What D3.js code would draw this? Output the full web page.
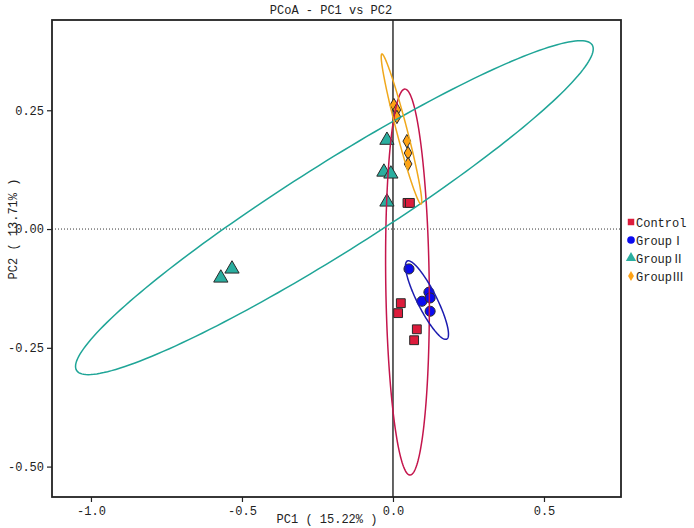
<!DOCTYPE html>
<html>
<head>
<meta charset="utf-8">
<script src="https://cdn.jsdelivr.net/npm/d3@7"></script>
<style>
  html, body { margin: 0; padding: 0; background: #fff; }
  text { font-family: "Liberation Mono", "Noto Sans CJK SC", monospace; }
</style>
</head>
<body>
<svg id="chart" width="694" height="528"></svg>
<script>
// ---- data ----
const groups = ["Control", "GroupⅠ", "GroupⅡ", "GroupⅢ"];
const controlX = [0.048, 0.056, 0.026, 0.017, 0.079, 0.070];
const controlY = [0.055, 0.055, -0.156, -0.177, -0.211, -0.234];
const group1X = [0.053, 0.119, 0.096, 0.123, 0.123];
const group1Y = [-0.084, -0.133, -0.152, -0.145, -0.173];
const group2X = [-0.020, -0.030, -0.007, -0.020, -0.570, -0.533];
const group2Y = [0.187, 0.120, 0.116, 0.057, -0.103, -0.084];
const group3X = [0.003, 0.013, 0.013, 0.046, 0.050, 0.050];
const group3Y = [0.261, 0.251, 0.236, 0.185, 0.160, 0.137];
// confidence ellipses (centre + scaled covariance, data units)
const ellipseCx  = [0.048, 0.1126, -0.194, 0.0281];
const ellipseCy  = [-0.1116, -0.1495, 0.045, 0.2105];
const ellipseSxx = [0.00525, 0.00507, 0.7346, 0.0045];
const ellipseSxy = [-0.0034, -0.0051, 0.2864, -0.0102];
const ellipseSyy = [0.165, 0.00684, 0.1235, 0.02496];
const xTicks = [-1.0, -0.5, 0.0, 0.5];
const xTickLabels = ["-1.0", "-0.5", "0.0", "0.5"];
const yTicks = [0.25, 0.00, -0.25, -0.50];
const yTickLabels = ["0.25", "0.00", "-0.25", "-0.50"];
const titleText = "PCoA - PC1 vs PC2";
const xTitle = "PC1 ( 15.22% )";
const yTitle = "PC2 ( 13.71% )";

// ---- styles ----
const markerFill = ["#DC1C3C", "#0A0AF0", "#2AAE9F", "#FFA214"];
const ellipseColor = ["#C4154C", "#1C1CB0", "#1FA597", "#F0A81C"];
const markerType = [d3.symbolSquare, d3.symbolCircle, d3.symbolTriangle, d3.symbolDiamond];
const markerSize = [78, 80, 88, 52];
const legendSize = [42, 46, 46, 30];

const W = 694, H = 528;
const M = { left: 52, right: 621, top: 20, bottom: 497 };
const svg = d3.select("#chart");
svg.append("rect").attr("width", W).attr("height", H).attr("fill", "#fff");

const x = d3.scaleLinear().domain([-1.129, 0.755]).range([M.left, M.right]);
const y = d3.scaleLinear().domain([-0.564, 0.44]).range([M.bottom, M.top]);

const plot = svg.append("g");
svg.append("clipPath").attr("id", "clip")
  .append("rect").attr("x", M.left).attr("y", M.top)
  .attr("width", M.right - M.left).attr("height", M.bottom - M.top);

// zero lines
plot.append("line")
  .attr("x1", M.left).attr("x2", M.right)
  .attr("y1", y(0)).attr("y2", y(0))
  .attr("stroke", "#333").attr("stroke-width", 1)
  .attr("stroke-dasharray", "1,2");
plot.append("line")
  .attr("x1", x(0)).attr("x2", x(0))
  .attr("y1", M.top).attr("y2", M.bottom)
  .attr("stroke", "#111").attr("stroke-width", 1.3);

// points
const pointSets = [
  [controlX, controlY], [group1X, group1Y], [group2X, group2Y], [group3X, group3Y]
];
const ptsG = plot.append("g").attr("clip-path", "url(#clip)");
pointSets.forEach(([xs, ys], gi) => {
  ptsG.selectAll(null).data(xs.map((v, i) => [v, ys[i]])).enter()
    .append("path")
    .attr("d", d3.symbol().type(markerType[gi]).size(markerSize[gi]))
    .attr("transform", d => `translate(${x(d[0])},${y(d[1])})`)
    .attr("fill", markerFill[gi])
    .attr("stroke", "#2a2a2a")
    .attr("stroke-width", 1);
});

// ellipses
const line = d3.line().x(d => x(d[0])).y(d => y(d[1])).curve(d3.curveLinearClosed);
const elG = plot.append("g").attr("clip-path", "url(#clip)");
groups.forEach((g, i) => {
  const l11 = Math.sqrt(ellipseSxx[i]);
  const l21 = ellipseSxy[i] / l11;
  const l22 = Math.sqrt(ellipseSyy[i] - l21 * l21);
  const pts = d3.range(0, 200).map(k => {
    const t = k / 200 * 2 * Math.PI;
    return [ellipseCx[i] + l11 * Math.cos(t),
            ellipseCy[i] + l21 * Math.cos(t) + l22 * Math.sin(t)];
  });
  elG.append("path").attr("d", line(pts))
    .attr("fill", "none").attr("stroke", ellipseColor[i]).attr("stroke-width", 1.5);
});

// frame
svg.append("rect")
  .attr("x", M.left).attr("y", M.top)
  .attr("width", M.right - M.left).attr("height", M.bottom - M.top)
  .attr("fill", "none").attr("stroke", "#222").attr("stroke-width", 1.8);

// axes
const xAxis = svg.append("g").attr("transform", `translate(0,${M.bottom})`)
  .call(d3.axisBottom(x).tickValues(xTicks).tickSize(5).tickPadding(4)
    .tickFormat((d, i) => xTickLabels[i]));
const yAxis = svg.append("g").attr("transform", `translate(${M.left},0)`)
  .call(d3.axisLeft(y).tickValues(yTicks).tickSize(5).tickPadding(3)
    .tickFormat((d, i) => yTickLabels[i]));
[xAxis, yAxis].forEach(a => {
  a.select(".domain").remove();
  a.selectAll(".tick line").attr("stroke", "#222").attr("stroke-width", 1.2);
  a.selectAll(".tick text").attr("fill", "#222").style("font-size", "12px")
    .style("font-family", "'Liberation Mono','Noto Sans CJK SC',monospace");
});

// titles
svg.append("text").attr("x", 331).attr("y", 14).attr("text-anchor", "middle")
  .attr("fill", "#222").style("font-size", "12px").text(titleText);
svg.append("text").attr("x", 327).attr("y", 523).attr("text-anchor", "middle")
  .attr("fill", "#222").style("font-size", "12px").text(xTitle);
svg.append("text").attr("transform", "translate(17,229) rotate(-90)")
  .attr("text-anchor", "middle").attr("fill", "#222").style("font-size", "12px").text(yTitle);

// legend
const leg = svg.append("g");
groups.forEach((g, i) => {
  const ly = 222 + i * 18;
  leg.append("path")
    .attr("d", d3.symbol().type(markerType[i]).size(legendSize[i]))
    .attr("transform", `translate(631,${ly})`)
    .attr("fill", markerFill[i]);
  leg.append("text").attr("x", 636).attr("y", ly + 4.5)
    .attr("fill", "#222").style("font-size", "12px").text(g);
});
</script>
</body>
</html>
